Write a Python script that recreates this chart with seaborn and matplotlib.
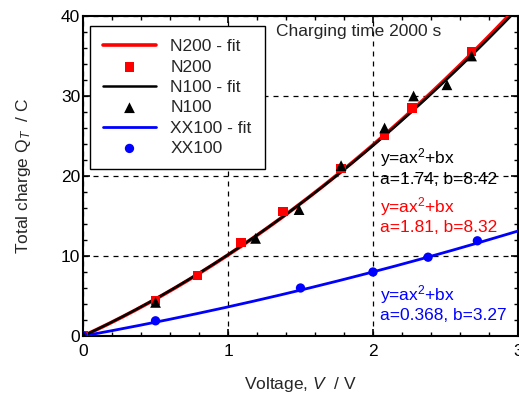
import numpy as np
import pandas as pd
import matplotlib
matplotlib.use("Agg")
import matplotlib.pyplot as plt
import seaborn as sns
from matplotlib.ticker import MultipleLocator

sns.set_theme(style="ticks")
plt.rcParams['font.family'] = ['Liberation Sans', 'DejaVu Sans']
plt.rcParams['mathtext.fontset'] = 'custom'
plt.rcParams['mathtext.rm'] = 'Liberation Sans'
plt.rcParams['mathtext.it'] = 'Liberation Sans:italic'

# data
n200_v = [0.0, 0.5, 0.79, 1.09, 1.38, 1.78, 2.08, 2.27, 2.68]
n200_q = [0.0, 4.4, 7.6, 11.7, 15.6, 20.9, 25.1, 28.5, 35.6]
n100_v = [0.0, 0.5, 1.19, 1.49, 1.78, 2.08, 2.28, 2.51, 2.68]
n100_q = [0.0, 4.2, 12.2, 15.8, 21.3, 26.0, 30.0, 31.4, 35.0]
xx100_v = [0.0, 0.5, 1.5, 2.0, 2.38, 2.72]
xx100_q = [0.0, 1.9, 6.0, 8.0, 9.85, 11.9]
# fit coefficients (y = a x^2 + b x)
fit_n200 = (1.81, 8.32)
fit_n100 = (1.74, 8.42)
fit_xx100 = (0.368, 3.27)

FS = 12.5

fig = plt.figure(figsize=(5.19, 4.0), dpi=100)
ax = fig.add_axes([0.160, 0.16, 0.838, 0.80])

vv = np.linspace(0, 3, 200)
def fitdf(c):
    return pd.DataFrame({"V": vv, "Q": c[0] * vv**2 + c[1] * vv})

sns.lineplot(data=fitdf(fit_n200), x="V", y="Q", color="red", lw=2.6, ax=ax, label="N200 - fit", zorder=3)
sns.lineplot(data=fitdf(fit_n100), x="V", y="Q", color="black", lw=1.8, ax=ax, label="N100 - fit", zorder=4)
sns.lineplot(data=fitdf(fit_xx100), x="V", y="Q", color="blue", lw=2.0, ax=ax, label="XX100 - fit", zorder=3)

sns.scatterplot(x=n200_v, y=n200_q, marker="s", color="red", s=45, edgecolor="none", ax=ax, label="N200", zorder=5)
sns.scatterplot(x=n100_v, y=n100_q, marker="^", color="black", s=60, edgecolor="none", ax=ax, label="N100", zorder=6)
sns.scatterplot(x=xx100_v, y=xx100_q, marker="o", color="blue", s=45, edgecolor="none", ax=ax, label="XX100", zorder=5)

ax.set_xlim(0, 3)
ax.set_ylim(0, 40)
ax.xaxis.set_major_locator(MultipleLocator(1))
ax.xaxis.set_minor_locator(MultipleLocator(0.2))
ax.yaxis.set_major_locator(MultipleLocator(10))
ax.yaxis.set_minor_locator(MultipleLocator(2))
ax.tick_params(which="both", direction="in", top=True, right=True, labelsize=FS, colors="black")
ax.tick_params(which="major", length=5, width=1.2)
ax.tick_params(which="minor", length=3, width=1)
ax.tick_params(axis="x", pad=6)
ax.tick_params(axis="y", pad=2)
for s in ax.spines.values():
    s.set_linewidth(1.5)
    s.set_color("black")
ax.grid(True, which="major", linestyle=(0, (4, 4)), color="black", lw=0.9)

ax.set_xlabel("Voltage, $\\it{V}$  / V", fontsize=FS, labelpad=11)
ax.set_ylabel("Total charge Q$_T$  / C", fontsize=FS, labelpad=20)

h, l = ax.get_legend_handles_labels()
order = ["N200 - fit", "N200", "N100 - fit", "N100", "XX100 - fit", "XX100"]
hd = dict(zip(l, h))
leg = ax.legend([hd[k] for k in order], order, loc="upper left", bbox_to_anchor=(0.005, 0.985),
                fontsize=FS, frameon=True, fancybox=False, edgecolor="black", framealpha=1,
                handlelength=3.0, handletextpad=0.85, borderpad=0.75, labelspacing=0.3,
                borderaxespad=0.3)
leg.get_frame().set_linewidth(1.0)
leg.set_zorder(10)

ax.text(1.33, 38.0, "Charging time 2000 s", fontsize=FS, va="center", ha="left")
ax.text(2.05, 23.7, "y=ax$^2$+bx\na=1.74, b=8.42", fontsize=FS, color="black", va="top", ha="left", linespacing=1.2)
ax.text(2.05, 17.6, "y=ax$^2$+bx\na=1.81, b=8.32", fontsize=FS, color="red", va="top", ha="left", linespacing=1.2)
ax.text(2.05, 6.6, "y=ax$^2$+bx\na=0.368, b=3.27", fontsize=FS, color="blue", va="top", ha="left", linespacing=1.2)

fig.savefig("out.png", dpi=100)
